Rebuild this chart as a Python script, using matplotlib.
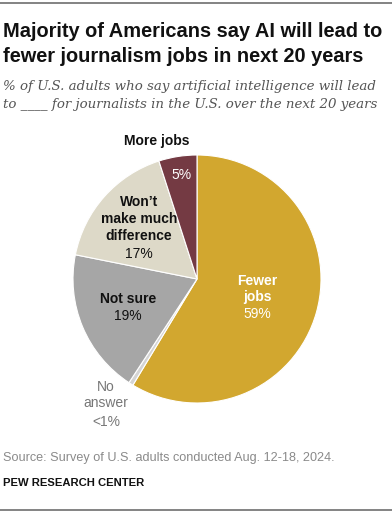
import matplotlib.pyplot as plt

# data
categories = ["Fewer jobs", "No answer", "Not sure", "Won't make much difference", "More jobs"]
shares = [59, 0.6, 19, 17, 5]
label_texts = ["59%", "<1%", "19%", "17%", "5%"]
colors = ["#D2A72F", "#D4D4D4", "#A6A6A6", "#DDD9C8", "#743A43"]

W, H = 392, 514
fig = plt.figure(figsize=(W / 100, H / 100), dpi=100)
fig.patch.set_facecolor("white")


def px(x, y):
    return x / W, 1 - y / H


def ftext(x, y, s, **kw):
    fx, fy = px(x, y)
    fig.text(fx, fy, s, **kw)


# rules top / bottom
fig.add_artist(plt.Line2D([0, 1], [1 - 3 / H, 1 - 3 / H], color="#6E6E6E", lw=1.2))
fig.add_artist(plt.Line2D([0, 1], [1 - 510 / H, 1 - 510 / H], color="#6E6E6E", lw=1.2))

# title and subtitle
title_kw = dict(fontsize=14.4, fontweight="bold", family="Liberation Sans", color="#111111", va="baseline")
ftext(3, 37, "Majority of Americans say AI will lead to", **title_kw)
ftext(3, 62, "fewer journalism jobs in next 20 years", **title_kw)
sub_kw = dict(fontsize=9.6, style="italic", family="DejaVu Serif", color="#555555", va="baseline")
ftext(3, 90, "% of U.S. adults who say artificial intelligence will lead", **sub_kw)
ftext(3, 108, "to ____ for journalists in the U.S. over the next 20 years", **sub_kw)

# pie
cx, cy, r = 197, 279, 124
ax = fig.add_axes([(cx - r) / W, 1 - (cy + r) / H, 2 * r / W, 2 * r / H])
ax.pie(shares, colors=colors, startangle=90, counterclock=False,
       wedgeprops=dict(edgecolor="white", linewidth=0.8))
ax.set_xlim(-1, 1)
ax.set_ylim(-1, 1)
ax.set_aspect("equal")
ax.axis("off")

lab = dict(family="Liberation Sans", fontsize=10, ha="center", va="center", linespacing=1.25)
ftext(157, 141, "More jobs", fontweight="bold", color="#111111", **lab)
ftext(182, 175, label_texts[4], color="white", **lab)
ftext(139, 219, "Won\u2019t\nmake much\ndifference", fontweight="bold", color="#111111", **lab)
ftext(139, 254, label_texts[3], color="#111111", **lab)
ftext(128, 299, "Not sure", fontweight="bold", color="#111111", **lab)
ftext(128, 316, label_texts[2], color="#111111", **lab)
ftext(257, 289, "Fewer\njobs", fontweight="bold", color="white", **lab)
ftext(257, 314, label_texts[0], color="white", **lab)
ftext(106, 395, "No\nanswer", color="#777777", **lab)
ftext(106, 422, label_texts[1], color="#777777", **lab)

# footer
ftext(3, 461, "Source: Survey of U.S. adults conducted Aug. 12-18, 2024.", family="Liberation Sans",
      fontsize=9.1, color="#8A8A8A", va="baseline")
ftext(3, 486, "PEW RESEARCH CENTER", family="Liberation Sans", fontsize=8.1, fontweight="bold",
      color="#111111", va="baseline")

fig.savefig("out.png", dpi=100)
